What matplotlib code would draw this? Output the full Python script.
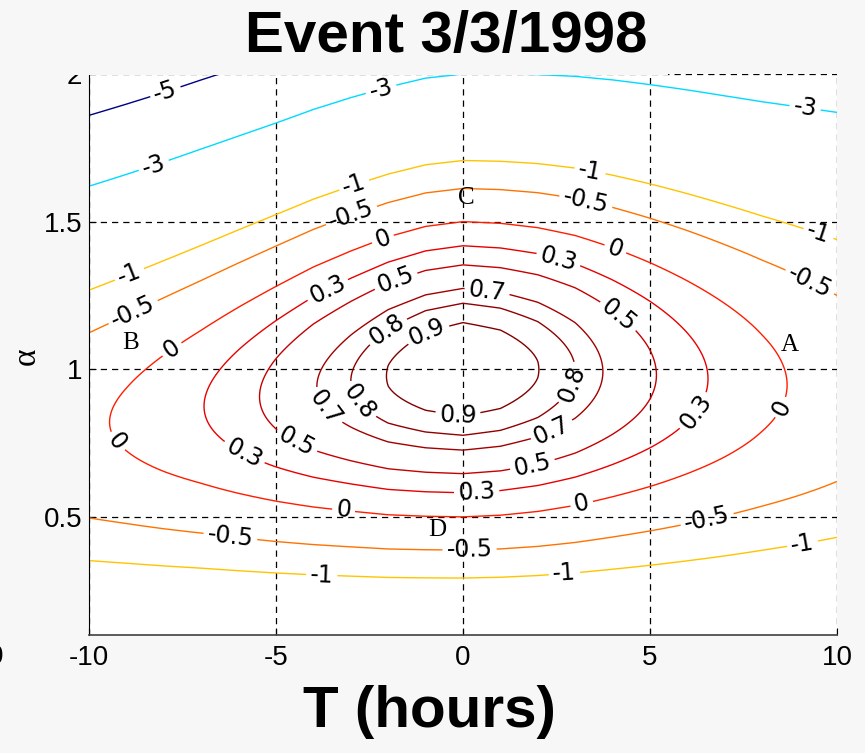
import numpy as np
import matplotlib
matplotlib.use("Agg")
import matplotlib.pyplot as plt
from matplotlib.patches import Rectangle

# time shift nodes (hours)
shift_hours = np.arange(-10, 11)
peak_eff = [-0.06, 0.05, 0.17, 0.29, 0.425, 0.56, 0.69, 0.80, 0.905, 0.97, 1.0,
            0.97, 0.903, 0.80, 0.665, 0.525, 0.38, 0.235, 0.09, -0.045, -0.18]
# scaling factor alpha where that best efficiency sits
ridge_alpha = [0.81, 0.83, 0.851, 0.873, 0.895, 0.917, 0.94, 0.96, 0.978, 0.993, 1.0,
               1.0, 0.999, 0.996, 0.99, 0.982, 0.973, 0.963, 0.953, 0.944, 0.935]
alpha_axis = np.arange(0.1, 2.0001, 0.01)
levels = [-5, -3, -1, -0.5, 0, 0.3, 0.5, 0.7, 0.8, 0.9]
# matlab jet colours for those levels
level_colors = ["#000080", "#00daff", "#ffc400", "#ff7200", "#ff1d00",
                "#e80000", "#c50000", "#a20000", "#910000", "#800000"]

# label spots (T, alpha) and marker letters
label_spots = [(-7.95, 1.937), (-2.18, 1.944), (-8.24, 1.68), (9.13, 1.87),
               (-2.9, 1.62), (-2.98, 1.52), (3.39, 1.667), (3.26, 1.555),
               (9.45, 1.437), (9.2, 1.277), (4.05, 1.40), (2.53, 1.362),
               (-2.13, 1.437), (-3.57, 1.257), (-1.78, 1.294), (0.64, 1.257),
               (-1.96, 1.122), (-0.89, 1.098), (-8.91, 1.318), (-8.78, 1.183),
               (-7.73, 1.058), (4.06, 1.166), (2.99, 0.946), (6.33, 0.844),
               (8.65, 0.861), (-9.37, 0.743), (-3.77, 0.861), (-2.89, 0.878),
               (-0.14, 0.838), (-4.53, 0.736), (-5.95, 0.692), (2.4, 0.787),
               (1.87, 0.668), (0.37, 0.574), (-3.21, 0.503), (3.2, 0.53),
               (-6.24, 0.411), (0.18, 0.37), (6.55, 0.479), (-3.78, 0.286),
               (2.72, 0.296), (9.1, 0.394)]
letters = ["A", "B", "C", "D"]
letter_spots = [(8.74, 1.081), (-8.88, 1.09), (0.1, 1.58), (-0.7, 0.455)]

# NSE is quadratic in alpha, and equals -3 at alpha = 0
T, A = np.meshgrid(shift_hours, alpha_axis)
P = np.array(peak_eff)[None, :]
R = np.array(ridge_alpha)[None, :]
Z = P - (P + 3) / R**2 * (A - R) ** 2

bg = "#f7f7f7"
fig = plt.figure(figsize=(8.65, 7.53), dpi=100, facecolor=bg)
ax = fig.add_axes([89 / 865, 118 / 753, 748 / 865, 561 / 753])
ax.set_facecolor("white")

cs = ax.contour(T, A, Z, levels=levels, colors=level_colors, linewidths=1.0)
ax.clabel(cs, manual=label_spots, inline=True, inline_spacing=4,
          fontsize=17, colors="k", fmt=lambda v: f"{v:g}")
for (x, y), s in zip(letter_spots, letters):
    ax.text(x, y, s, fontsize=18, family="Liberation Serif",
            ha="center", va="center")

ax.set_xlim(-10, 10)
ax.set_ylim(0.1, 2.0)
ax.set_xticks([-10, -5, 0, 5, 10])
ax.set_xticklabels(["-10", "-5", "0", "5", "10"])
ax.set_yticks([0.5, 1, 1.5, 2])
ax.set_yticklabels(["0.5", "1", "1.5", "2"])
ax.grid(True, color="k", linestyle=(0, (5, 4)), linewidth=0.9)
ax.tick_params(direction="in", length=5, labelsize=20, pad=5)
ax.tick_params(axis="x", pad=7)
for lab in ax.get_xticklabels() + ax.get_yticklabels():
    lab.set_family("Liberation Sans")
ax.spines["top"].set_visible(False)
ax.spines["right"].set_visible(False)
ax.spines["left"].set_color("k")
ax.spines["bottom"].set_color("#404040")
ax.spines["bottom"].set_linewidth(1.2)

# grey band that hides the top edge on the left part
fig.patches.append(Rectangle((0, 1 - 74.5 / 753), 668 / 865, 74.5 / 753,
                             transform=fig.transFigure, facecolor=bg,
                             edgecolor="none", zorder=1))

fig.text(446.5 / 865, 1 - 37 / 753, "Event 3/3/1998", fontsize=42,
         fontweight="bold", family="Liberation Sans", ha="center",
         va="center", zorder=3)
fig.text(429 / 865, 1 - 712 / 753, "T (hours)", fontsize=42,
         fontweight="bold", family="Liberation Sans", ha="center",
         va="center", zorder=3)
fig.text(27 / 865, 1 - 356 / 753, "α", fontsize=24, family="Liberation Serif",
         rotation=90, ha="center", va="center", zorder=3)
# clipped tick label of a neighbouring panel at the left edge
fig.text(-4 / 865, 1 - 657 / 753, "0", fontsize=20, family="Liberation Sans",
         ha="center", va="center", zorder=3)

fig.savefig("out.png", dpi=100, facecolor=bg)
